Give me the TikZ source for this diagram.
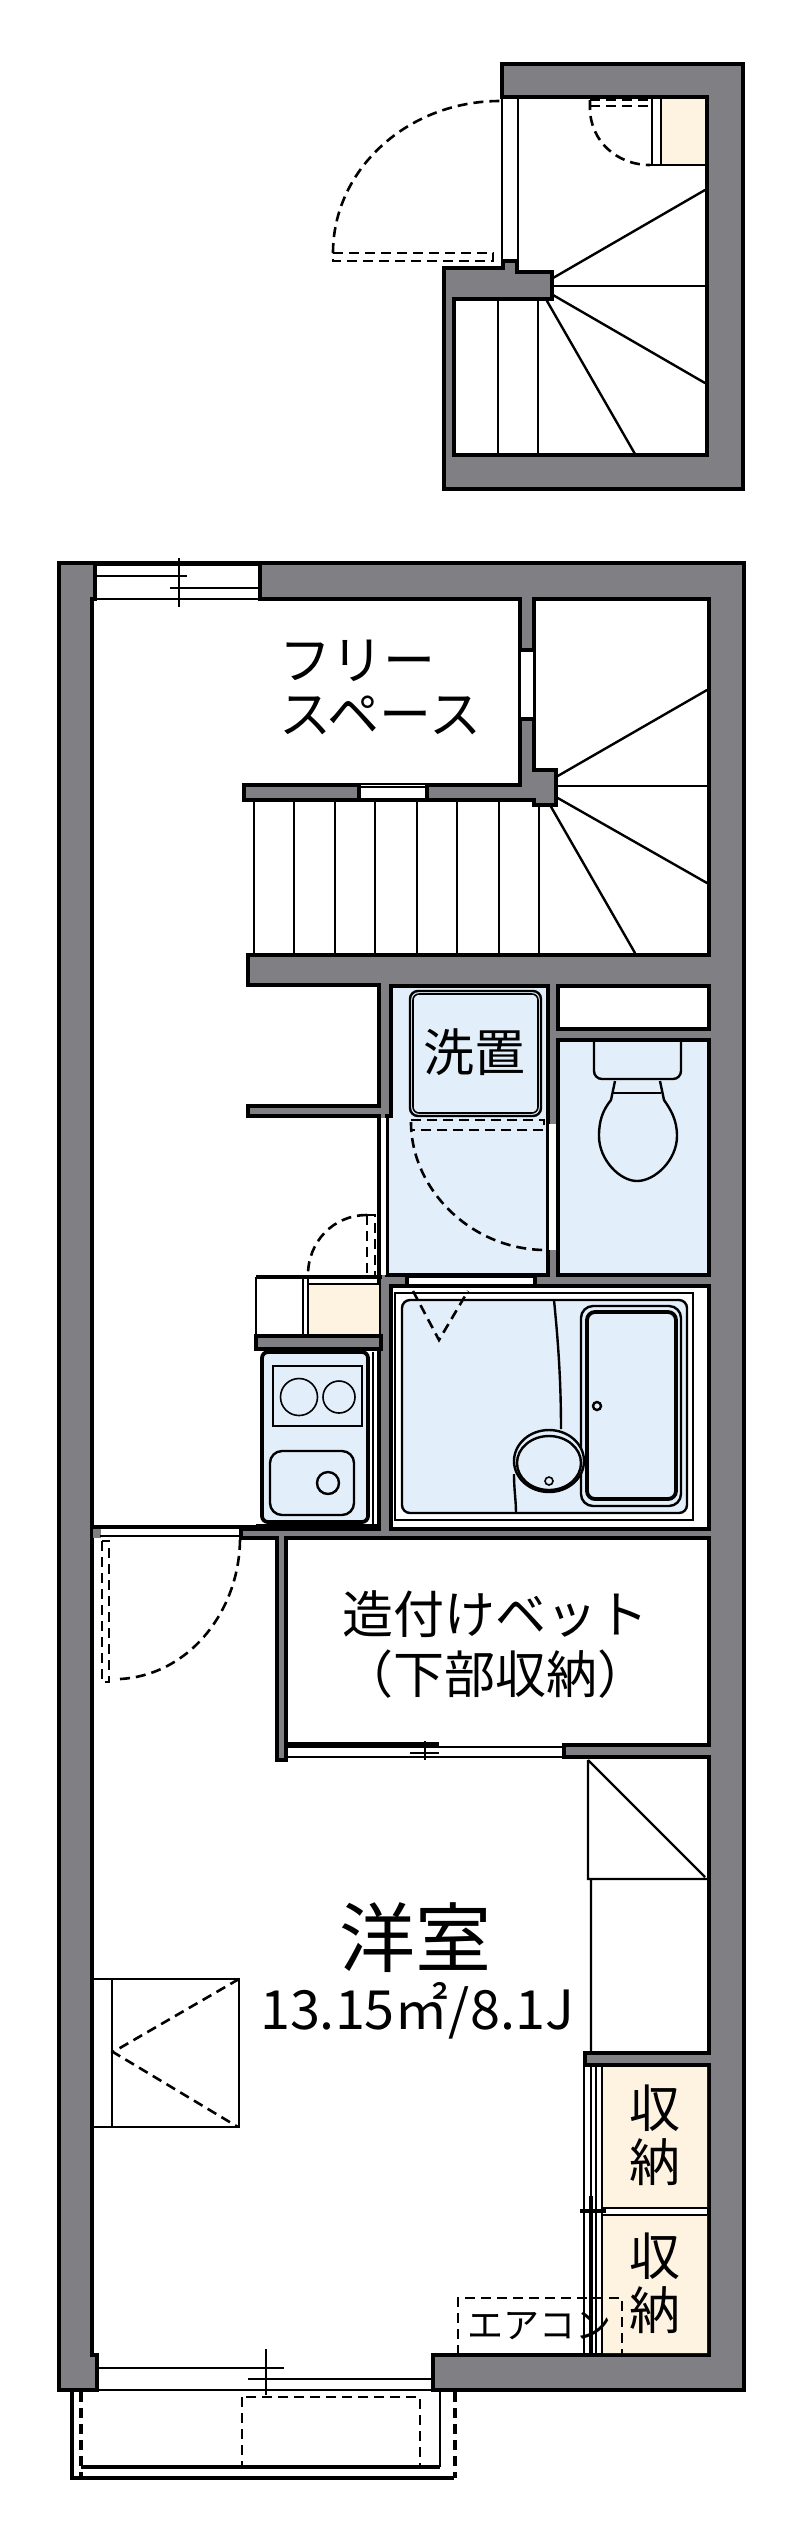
\documentclass[tikz,border=0pt]{standalone}
\usepackage{fontspec, tkz-euclide}
\setmainfont{Noto Sans CJK JP}
\definecolor{wallgray}{HTML}{808084}
\definecolor{wetblue}{HTML}{E3EEFB}
\definecolor{closetcream}{HTML}{FDF3E0}
\tikzset{>=stealth,
  wall/.style={fill=wallgray, draw=black, line width=1.9pt, line join=miter},
  thinline/.style={draw=black, line width=0.8pt},
  midline/.style={draw=black, line width=1.2pt},
  heavyline/.style={draw=black, line width=1.9pt},
  doorline/.style={draw=black, line width=1.3pt, dash pattern=on 5pt off 3pt},
  room/.style={fill=white, draw=black, line width=1.9pt},
  wetroom/.style={fill=wetblue, draw=black, line width=1.9pt},
  gapfill/.style={fill=white, draw=none},
  roomlabel/.style={font=\fontsize{25.5}{27}\selectfont, inner sep=0pt, align=center}}

\begin{document}
\begin{tikzpicture}[x=0.5pt,y=-0.5pt]
    \useasboundingbox (0,0) rectangle (800,2540);
    \tkzDefPoints{502/64/A, 743/64/B, 743/489/C, 444/489/D, 444/268/E, 503/268/F, 503/261/G, 517/261/H,
      517/272/I, 552/272/J, 552/299/K, 454/299/L, 454/455/M, 707/455/N, 707/97/O, 502/97/P}
    \tkzDrawPolygon[wall](A,B,C,D,E,F,G,H,I,J,K,L,M,N,O,P)
    \tkzDefPoints{553/278/Q, 553/286/R, 553/295/S, 547/301/T, 705/190/U, 705/286/V, 705/383/W, 635/454/X}
    \tkzDrawSegments[midline](Q,U S,W T,X)
    \tkzDrawSegments[thinline](R,V)
    \draw[thinline] (502,97) -- (502,261) (518,97) -- (518,261);
    \draw[midline] (498,299) -- (498,455) (538,299) -- (538,455);
    \fill[closetcream] (662,99) rectangle (705,165);
    \draw[thinline] (652,97) -- (652,165) (661,97) -- (661,165);
    \draw[midline] (650,165) -- (707,165);
    \draw[doorline] (590,100) -- (650,100) (590,106) -- (650,106);
    \draw[doorline] (590,100) -- (590,108) .. controls (590,141) and (617,165) .. (650,165);
    \draw[doorline] (333,253) -- (493,253) -- (493,261) -- (333,261) -- cycle;
    \draw[doorline] (333,253) .. controls (333,169) and (408,101) .. (500,101);

    \tkzDefPoints{59/563/a, 744/563/b, 744/2390/c, 433/2390/d, 433/2355/e, 709/2355/f, 709/2065/g, 585/2065/h,
      585/2053/i, 709/2053/j, 709/1757/k, 564/1757/l, 564/1745/m, 709/1745/n, 709/1538/o, 286/1538/p,
      286/1760/q, 277/1760/r, 277/1538/s, 241/1538/t, 241/1529/u, 379/1529/v, 379/1116/w, 248/1116/x,
      248/1106/y, 379/1106/z}
    \tkzDefPoints{379/985/a1, 248/985/a2, 248/955/a3, 709/955/a4, 709/599/a5, 534/599/a6, 534/770/a7, 556/770/a8,
      556/805/a9, 534/805/b1, 534/800/b2, 244/800/b3, 244/785/b4, 520/785/b5, 520/599/b6, 260/599/b7,
      260/563/b8, 95/563/b9, 95/599/c1, 92/599/c2, 92/2355/c3, 97/2355/c4, 97/2390/c5, 59/2390/c6}
    \tkzDrawPolygon[wall](a,b,c,d,e,f,g,h,i,j,k,l,m,n,o,p,q,r,s,t,u,v,w,x,y,z,a1,a2,a3,a4,a5,a6,a7,a8,a9,b1,b2,b3,b4,b5,b6,b7,b8,b9,c1,c2,c3,c4,c5,c6)

    \draw[thinline] (95,565) -- (260,565) (95,599) -- (260,599);
    \draw[midline] (95,576) -- (187,576) (170,588) -- (260,588) (179,558) -- (179,607);

    \fill[gapfill] (520,652) rectangle (534,718);
    \draw[thinline] (520,652) -- (520,718) (534,652) -- (534,718);
    \fill[gapfill] (359,785) rectangle (427,800);
    \draw[thinline] (359,787) -- (427,787) (359,799) -- (427,799);
    \draw[heavyline] (519,650) -- (535,650) (519,719) -- (535,719) (359,785) -- (359,800) (427,785) -- (427,800);
    \tkzDefPoints{556/777/d1, 556/786/d2, 556/797/d3, 550/805/d4, 707/690/d5, 707/786/d6, 707/883/d7, 635/953/d8}
    \tkzDrawSegments[midline](d1,d5 d3,d7 d4,d8)
    \tkzDrawSegments[thinline](d2,d6)
    \draw[midline] (254,800) -- (254,955) (294,800) -- (294,955) (335,800) -- (335,955) (375,800) -- (375,955)
      (417,800) -- (417,955) (457,800) -- (457,955) (499,800) -- (499,955) (539,805) -- (539,955);

    \draw[room] (558,986) rectangle (709,1029);
    \draw[wetroom] (391,986) -- (548,986) -- (548,1275) -- (387,1275) -- (387,1116) -- (391,1116) -- cycle;
    \draw[wetroom] (558,1040) rectangle (709,1275);
    \fill[gapfill] (380,1118) rectangle (386,1275);
    \draw[midline] (380,1116) -- (380,1277);
    \fill[gapfill] (549,1124) rectangle (557,1250);
    \draw[midline] (548,1124) -- (548,1250) (557,1124) -- (557,1250);
    \fill[gapfill] (407,1276) rectangle (535,1285);
    \draw[thinline] (407,1277) -- (535,1277) (407,1285) -- (535,1285);
    \draw[heavyline] (407,1274) -- (407,1287) (535,1274) -- (535,1287);
    \draw[midline, rounded corners=4pt, fill=wetblue] (410,991) rectangle (541,1116);
    \draw[thinline, rounded corners=3pt] (413,994) rectangle (538,1113);
    \node[roomlabel] (washlabel) at (474,1052) {洗置};
    \draw[doorline] (411,1120) -- (544,1120) -- (544,1130) -- (411,1130) -- cycle;
    \draw[doorline] (411,1122) .. controls (411,1190) and (472,1250) .. (546,1250);

    \draw[midline, rounded corners=4pt] (594,1040) -- (594,1079) -- (681,1079) -- (681,1040);
    \draw[midline] (613,1093) -- (661,1093);
    \draw[midline] (615,1081) -- (611,1100) .. controls (603,1110) and (599,1120) .. (599,1136)
      .. controls (599,1160) and (620,1181) .. (637,1181)
      .. controls (655,1181) and (677,1160) .. (677,1136)
      .. controls (677,1120) and (671,1110) .. (664,1100) -- (660,1081);

    \draw[room] (391,1286) rectangle (709,1529);
    \draw[midline] (395,1293) rectangle (693,1520);
    \draw[midline, rounded corners=4pt, fill=wetblue] (402,1300) rectangle (687,1513);
    \draw[midline, rounded corners=6pt] (581,1306) rectangle (681,1506);
    \draw[heavyline, rounded corners=4pt] (587,1312) rectangle (676,1499);
    \draw[midline] (597,1406) circle [radius=4];
    \draw[midline] (554,1300) .. controls (558,1340) and (561,1380) .. (561,1429);
    \draw[midline] (514,1474) .. controls (514,1490) and (516,1500) .. (516,1513);
    \draw[midline, fill=wetblue] (549,1461) ellipse [x radius=35, y radius=31];
    \draw[midline] (549,1463) ellipse [x radius=32, y radius=27];
    \draw[thinline] (549,1481) circle [radius=4];
    \draw[doorline] (413,1291) -- (439,1340) -- (468,1291);

    \draw[doorline] (367,1215) -- (375,1215) -- (375,1275) (367,1215) -- (367,1275);
    \draw[doorline] (367,1215) .. controls (333,1215) and (308,1242) .. (308,1275);
    \fill[closetcream] (308,1284) rectangle (379,1336);
    \draw[heavyline] (256,1277) -- (382,1277);
    \draw[midline] (256,1277) -- (256,1349) (303,1277) -- (303,1336) (308,1277) -- (308,1336) (308,1284) -- (379,1284);
    \draw[wall] (256,1336) rectangle (381,1349);

    \draw[heavyline, fill=wetblue, rounded corners=3pt] (262,1352) rectangle (368,1522);
    \draw[midline] (373,1352) -- (373,1525);
    \draw[heavyline] (256,1526) -- (378,1526);
    \draw[midline] (273,1366) rectangle (362,1426);
    \draw[thinline] (299,1397) circle [radius=18.5] (339,1397) circle [radius=16];
    \draw[midline, rounded corners=6pt] (270,1451) rectangle (354,1515);
    \draw[midline] (328,1483) circle [radius=11];

    \fill[wallgray] (93,1529) rectangle (101,1538);
    \draw[heavyline] (92,1527) -- (256,1527);
    \draw[midline] (100,1536) -- (241,1536);
    \draw[doorline] (102,1541) -- (102,1682) -- (109,1682) -- (109,1541) -- cycle;
    \draw[doorline] (120,1679) .. controls (190,1675) and (240,1610) .. (240,1538);

    \draw[heavyline, line width=2.8pt] (286,1745) -- (439,1745);
    \draw[thinline] (439,1747) -- (564,1747) (286,1757) -- (564,1757);
    \draw[midline] (410,1753) -- (439,1753) (425,1741) -- (425,1760);
    \node[roomlabel, font=\fontsize{25.5}{30}\selectfont] (bedlabel) at (495,1645) {造付けベット\\（下部収納）};

    \draw[midline] (588,1760) -- (588,1879) -- (707,1879) (588,1760) -- (705,1877) (591,1879) -- (591,2053);
    \node[font=\fontsize{38}{40}\selectfont, inner sep=0pt] (roomname) at (415,1938) {洋室};
    \node[font=\fontsize{27}{30}\selectfont, inner sep=0pt] (roomarea) at (417,2011) {13.15㎡/8.1J};

    \draw[midline] (94,1979) -- (239,1979) -- (239,2127) -- (94,2127) (112,1979) -- (112,2127);
    \draw[doorline] (239,1979) -- (113,2052) -- (238,2127);

    \fill[closetcream] (603,2067) rectangle (707,2208) (603,2215) rectangle (707,2353);
    \draw[midline] (602,2065) -- (602,2355) (584,2065) -- (584,2355) (596,2065) -- (596,2226) (596,2226) -- (596,2355);
    \draw[heavyline] (591,2196) -- (591,2355) (580,2211) -- (606,2211);
    \draw[midline] (591,2065) -- (591,2196) (603,2208) -- (707,2208) (603,2215) -- (707,2215);
    \node[roomlabel] (storelabela) at (655,2135) {収\\納};
    \node[roomlabel] (storelabelb) at (655,2283) {収\\納};
    \draw[doorline] (458,2355) -- (458,2298) -- (622,2298) -- (622,2355);
    \node[font=\fontsize{18}{20}\selectfont, inner sep=0pt] (aclabel) at (539,2326) {エアコン};
    \node[roomlabel, anchor=north west, align=left, font=\fontsize{26}{27}\selectfont] (freelabel) at (279,640) {フリー\\スペース};

    \draw[thinline] (98,2390) -- (433,2390);
    \draw[midline] (98,2368) -- (284,2368) (248,2379) -- (433,2379) (266,2349) -- (266,2395);
    \draw[line width=1.6pt] (72,2392) -- (72,2478) -- (454,2478) (81,2467) -- (440,2467);
    \draw[midline] (440,2467) -- (440,2392);
    \draw[doorline, line width=1.8pt] (81,2392) -- (81,2476);
    \draw[doorline, line width=2.2pt] (455,2392) -- (455,2478);
    \draw[doorline] (242,2397) rectangle (420,2466);
\end{tikzpicture}
\end{document}
